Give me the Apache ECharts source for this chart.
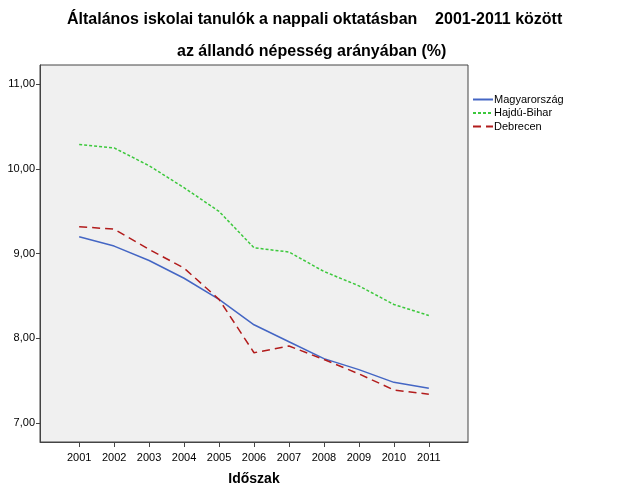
<!DOCTYPE html>
<html><head><meta charset="utf-8">
<script src="https://cdn.jsdelivr.net/npm/echarts@6/dist/echarts.min.js"></script>
<style>html,body{margin:0;padding:0;background:#fff}#c{width:626px;height:501px}</style>
</head><body><div id="c"></div>
<script>
const years = [2001,2002,2003,2004,2005,2006,2007,2008,2009,2010,2011];
const yTicks = [7,8,9,10,11];
const magyarorszag = [9.20,9.09,8.92,8.71,8.46,8.16,7.96,7.76,7.63,7.48,7.41];
const hajduBihar   = [10.29,10.25,10.04,9.78,9.50,9.07,9.02,8.79,8.62,8.40,8.27];
const debrecen     = [9.32,9.29,9.05,8.83,8.46,7.83,7.91,7.75,7.58,7.39,7.34];
const seriesNames = ['Magyarország','Hajdú-Bihar','Debrecen'];

const pair = arr => years.map((y,i)=>[y,arr[i]]);
const font = 'Liberation Sans, Arial, sans-serif';
const chart = echarts.init(document.getElementById('c'), null, {renderer:'canvas'});
chart.setOption({
  animation:false,
  backgroundColor:'#fff',
  graphic:[
    {type:'text', left:67, top:12, style:{text:'Általános iskolai tanulók a nappali oktatásban    2001-2011 között', font:'bold 16px '+font, fill:'#000'}},
    {type:'text', left:177, top:44, style:{text:'az állandó népesség arányában (%)', font:'bold 16px '+font, fill:'#000'}}
  ],
  grid:{left:40, top:65, right:158, bottom:59, show:true, backgroundColor:'#f0f0f0', borderColor:'#444', borderWidth:1},
  legend:{
    orient:'vertical', left:472, top:94, padding:0, itemWidth:20, itemHeight:8, itemGap:2.5,
    data:seriesNames,
    itemStyle:{opacity:0},
    textStyle:{fontFamily:font, fontSize:11, color:'#000', padding:[0,0,0,-4]}
  },
  xAxis:{
    type:'value', min:1999.88, max:2012.12,
    name:'Időszak', nameLocation:'middle', nameGap:30,
    nameTextStyle:{fontFamily:font, fontSize:14, fontWeight:'bold', color:'#000'},
    axisLine:{show:true, lineStyle:{color:'#444'}},
    axisTick:{show:true, length:5, lineStyle:{color:'#444'}, customValues:years},
    axisLabel:{fontFamily:font, fontSize:11, color:'#000', margin:10, customValues:years, formatter:v=>String(v)},
    splitLine:{show:false}
  },
  yAxis:{
    type:'value', min:6.775, max:11.23,
    axisLine:{show:true, lineStyle:{color:'#444'}},
    axisTick:{show:true, length:4, lineStyle:{color:'#444'}, customValues:yTicks},
    axisLabel:{fontFamily:font, fontSize:11, color:'#000', margin:5, customValues:yTicks, formatter:v=>v.toFixed(2).replace('.',',')},
    splitLine:{show:false}
  },
  series:[
    {name:seriesNames[0], type:'line', data:pair(magyarorszag), symbol:'none', lineStyle:{color:'#4466c4', width:1.5, type:'solid'}, itemStyle:{color:'#4466c4'}},
    {name:seriesNames[1], type:'line', data:pair(hajduBihar), symbol:'none', lineStyle:{color:'#3cc83c', width:1.5, type:[3,2]}, itemStyle:{color:'#3cc83c'}},
    {name:seriesNames[2], type:'line', data:pair(debrecen), symbol:'none', lineStyle:{color:'#b21c1c', width:1.5, type:[8,5]}, itemStyle:{color:'#b21c1c'}}
  ]
});
</script></body></html>
